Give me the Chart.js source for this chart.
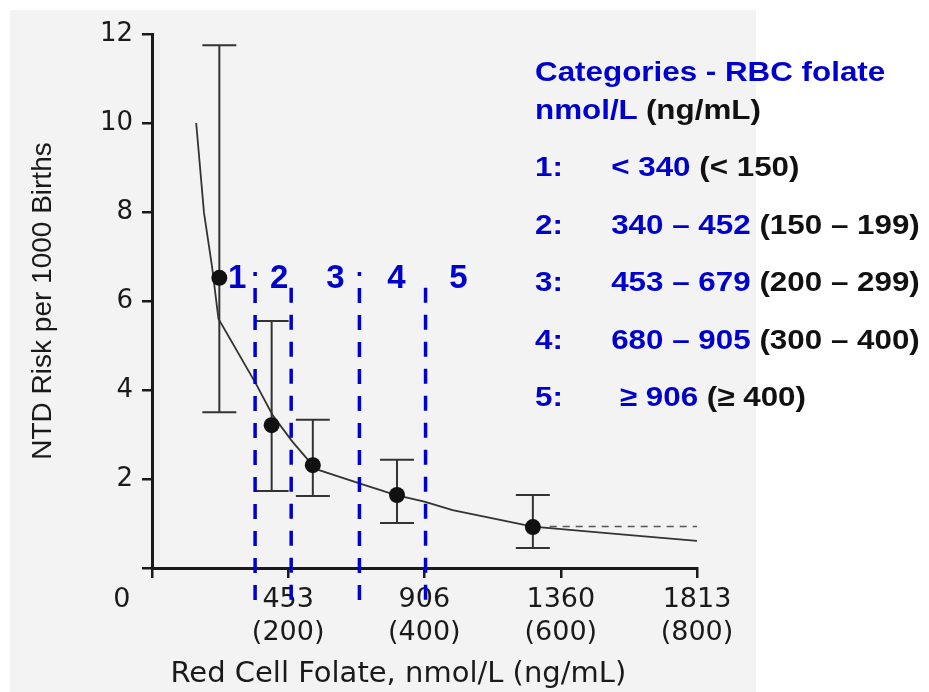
<!DOCTYPE html>
<html>
<head>
<meta charset="utf-8">
<title>NTD risk by red cell folate</title>
<script src="https://cdn.jsdelivr.net/npm/chart.js@4.4.1/dist/chart.umd.min.js"></script>
<style>
  body { margin: 0; background: #fff; }
  #wrap { position: relative; width: 929px; height: 692px; overflow: hidden; }
  #paper { position: absolute; left: 10px; top: 10px; width: 746px; height: 682px; background: #f3f3f3; }
  #chart { position: absolute; left: 0; top: 0; }
  #key { position: absolute; left: 535px; top: 0; width: 400px; height: 692px;
         transform: scaleX(1.12); transform-origin: 0 0;
         font: bold 28px "Liberation Sans", Arial, sans-serif; white-space: pre; }
  #key div { position: absolute; left: 0; line-height: 32px; }
  .blue { color: #0000cc; }
  .black { color: #111; }
  .num { display: inline-block; width: 68px; }
</style>
</head>
<body>
<div id="wrap">
  <div id="paper"></div>
  <canvas id="chart" width="929" height="692"></canvas>
  <div id="key"></div>
</div>
<script>
// observed risk per category (nmol/L) with confidence limits
const folateX = [224, 398, 535, 815, 1267];
const riskMean = [6.52, 3.21, 2.31, 1.64, 0.92];
const riskLow = [3.5, 1.73, 1.62, 1.01, 0.45];
const riskHigh = [11.75, 5.55, 3.33, 2.43, 1.64];

// fitted risk curve
const curveX = [147, 173, 200, 221, 345, 401, 467, 534, 556, 690, 812, 906, 1000, 1267, 1551, 1813];
const curveY = [10.0, 7.98, 6.76, 5.6, 4.15, 3.44, 2.84, 2.31, 2.2, 1.9, 1.64, 1.49, 1.3, 0.93, 0.76, 0.61];

// flat line after the last category
const flatX = [1323, 1813];
const flatY = [0.93, 0.93];

// category cut lines and numbers
const cutX = [343, 463, 690, 910];
const cutTop = [6.65, 6.30, 6.65, 6.30];
const cutBottom = -0.94;
const catNames = ['1', '2', '3', '4', '5'];
const catX = [283, 423, 610, 813, 1019];
const catY = 6.29;

// category key text
const rangeNmol = ['< 340', '340 \u2013 452', '453 \u2013 679', '680 \u2013 905', ' \u2265 906'];
const rangeNg = ['(< 150)', '(150 \u2013 199)', '(200 \u2013 299)', '(300 \u2013 400)', '(\u2265 400)'];

// axis ticks
const xTickValues = [0, 453, 906, 1360, 1813];
const xTickLabels = [['0'], ['453', '(200)'], ['906', '(400)'], ['1360', '(600)'], ['1813', '(800)']];
const yTickValues = [0, 2, 4, 6, 8, 10, 12];

const blue = '#0000cc';
const ink = '#1a1a1a';

// vertical bars with caps, drawn before the points
const errorBars = {
  id: 'errorBars',
  beforeDatasetsDraw(chart) {
    const { ctx, scales: { x, y } } = chart;
    ctx.save();
    ctx.strokeStyle = '#333';
    ctx.lineWidth = 2;
    folateX.forEach((v, i) => {
      const px = x.getPixelForValue(v);
      const top = y.getPixelForValue(riskHigh[i]);
      const bot = y.getPixelForValue(riskLow[i]);
      ctx.beginPath();
      ctx.moveTo(px, top); ctx.lineTo(px, bot);
      ctx.moveTo(px - 17, top); ctx.lineTo(px + 17, top);
      ctx.moveTo(px - 17, bot); ctx.lineTo(px + 17, bot);
      ctx.stroke();
    });
    ctx.restore();
  }
};

const categoryNumbers = {
  id: 'categoryNumbers',
  afterDatasetsDraw(chart) {
    const { ctx, scales: { x, y } } = chart;
    ctx.save();
    ctx.font = 'bold 33px "Liberation Sans", Arial, sans-serif';
    ctx.fillStyle = blue;
    ctx.textAlign = 'center';
    ctx.textBaseline = 'alphabetic';
    catNames.forEach((t, i) => ctx.fillText(t, x.getPixelForValue(catX[i]), y.getPixelForValue(catY)));
    ctx.restore();
  }
};

const cutSets = cutX.map((cx, i) => ({
  data: [{ x: cx, y: cutTop[i] }, { x: cx, y: cutBottom }],
  showLine: true,
  borderColor: blue,
  borderWidth: 3.5,
  borderDash: [15, 12],
  borderDashOffset: i % 2 === 0 ? 11 : 0,
  pointRadius: 0,
  clip: false,
  order: 0
}));

new Chart(document.getElementById('chart'), {
  type: 'scatter',
  data: {
    datasets: [
      ...cutSets,
      {
        data: folateX.map((v, i) => ({ x: v, y: riskMean[i] })),
        pointRadius: 8,
        pointBackgroundColor: '#111',
        pointBorderWidth: 0,
        order: 1
      },
      {
        data: curveX.map((v, i) => ({ x: v, y: curveY[i] })),
        showLine: true,
        borderColor: '#333',
        borderWidth: 1.8,
        tension: 0,
        pointRadius: 0,
        order: 2
      },
      {
        data: flatX.map((v, i) => ({ x: v, y: flatY[i] })),
        showLine: true,
        borderColor: '#555',
        borderWidth: 1.5,
        borderDash: [7, 6],
        pointRadius: 0,
        order: 3
      }
    ]
  },
  options: {
    responsive: false,
    animation: false,
    events: [],
    devicePixelRatio: 1,
    layout: { padding: { left: 0, top: 34, right: 232, bottom: 0 } },
    plugins: { legend: { display: false }, tooltip: { enabled: false } },
    scales: {
      x: {
        type: 'linear',
        min: 0,
        max: 1813,
        afterBuildTicks: s => { s.ticks = xTickValues.map(v => ({ value: v })); },
        afterFit: s => { s.height = 124; },
        border: { display: true, color: ink, width: 3 },
        grid: { drawOnChartArea: false, drawTicks: true, tickLength: 10, color: ink, lineWidth: 2.5 },
        ticks: {
          autoSkip: false,
          maxRotation: 0,
          padding: 6,
          color: ink,
          font: { family: '"DejaVu Sans"', size: 27 },
          // origin label sits left of the corner
          callback: v => {
            const lab = xTickLabels[xTickValues.indexOf(v)];
            return v === 0 ? lab[0] + '       ' : lab;
          }
        },
        title: {
          display: true,
          text: '  Red Cell Folate, nmol/L (ng/mL)',
          align: 'start',
          color: ink,
          font: { family: '"DejaVu Sans"', size: 29 },
          padding: { top: 0, bottom: 0 }
        }
      },
      y: {
        min: 0,
        max: 12,
        afterBuildTicks: s => { s.ticks = yTickValues.map(v => ({ value: v })); },
        afterFit: s => { s.width = 152; },
        border: { display: true, color: ink, width: 3 },
        grid: { drawOnChartArea: false, drawTicks: true, tickLength: 10, color: ink, lineWidth: 2.5 },
        ticks: {
          padding: 9,
          color: ink,
          font: { family: '"DejaVu Sans"', size: 26 },
          callback: v => (v === 0 ? '' : String(v))
        },
        title: {
          display: true,
          text: 'NTD Risk per 1000 Births',
          color: ink,
          font: { family: '"Liberation Sans"', size: 28 },
          padding: { top: 26, bottom: 0 }
        }
      }
    }
  },
  plugins: [errorBars, categoryNumbers]
});

// category key on the right
const key = document.getElementById('key');
function keyRow(top, parts) {
  const d = document.createElement('div');
  d.style.top = top + 'px';
  parts.forEach(([text, cls]) => {
    const s = document.createElement('span');
    s.className = cls;
    s.textContent = text;
    d.appendChild(s);
  });
  key.appendChild(d);
}
keyRow(56, [['Categories - RBC folate', 'blue']]);
keyRow(94, [['nmol/L', 'blue'], [' (ng/mL)', 'black']]);
catNames.forEach((c, i) => {
  keyRow(151 + i * 57.5, [[c + ':', 'blue num'], [rangeNmol[i], 'blue'], [' ' + rangeNg[i], 'black']]);
});
</script>
</body>
</html>
